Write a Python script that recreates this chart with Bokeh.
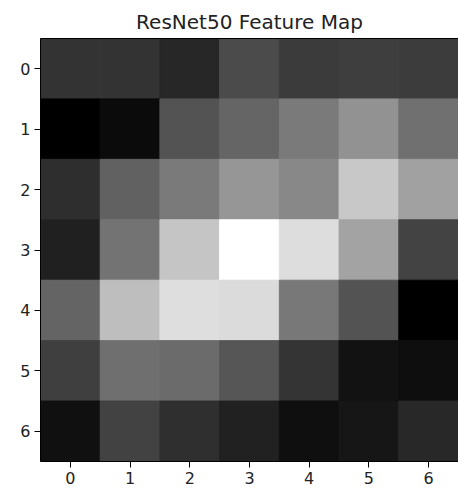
from bokeh.plotting import figure
from bokeh.models import ColumnDataSource, LinearColorMapper, Range1d, FixedTicker, LinearAxis
from bokeh.embed import file_html
from bokeh.resources import INLINE

# Feature map values (gray level 0-255), rows top to bottom
row0 = [51, 51, 39, 75, 59, 62, 60]
row1 = [0, 11, 83, 101, 122, 146, 112]
row2 = [46, 97, 122, 150, 136, 200, 161]
row3 = [32, 115, 197, 255, 221, 163, 67]
row4 = [100, 190, 222, 219, 120, 83, 0]
row5 = [63, 111, 107, 86, 52, 18, 14]
row6 = [16, 66, 47, 33, 15, 22, 40]
rows = [row0, row1, row2, row3, row4, row5, row6]
tick_positions = [0, 1, 2, 3, 4, 5, 6]

xs, ys, vals = [], [], []
for r, row in enumerate(rows):
    for c, v in enumerate(row):
        xs.append(c)
        ys.append(r)
        vals.append(v)
src = ColumnDataSource(dict(x=xs, y=ys, v=vals))

gray = ["#%02x%02x%02x" % (i, i, i) for i in range(256)]
mapper = LinearColorMapper(palette=gray, low=min(vals), high=max(vals))

p = figure(width=458, height=488, output_backend="svg", toolbar_location=None,
           x_range=Range1d(-0.5, 6.5), y_range=Range1d(6.5, -0.5),
           title="ResNet50 Feature Map",
           min_border_left=40, min_border_right=0, min_border_top=38, min_border_bottom=27)
p.frame_width = 418
p.frame_height = 423

p.rect(x="x", y="y", width=1, height=1, source=src,
       fill_color={"field": "v", "transform": mapper},
       line_color={"field": "v", "transform": mapper}, line_width=1)

p.title.align = "center"
p.title.text_font = "DejaVu Sans"
p.title.text_font_size = "20px"
p.title.text_font_style = "normal"
p.title.text_color = "#222222"
p.title.standoff = 10

p.grid.visible = False
p.background_fill_color = "white"
p.border_fill_color = "white"
p.outline_line_color = None

top_axis = LinearAxis(ticker=FixedTicker(ticks=[]), major_tick_line_color=None,
                      minor_tick_line_color=None, major_label_text_font_size="0px",
                      major_tick_out=0, major_tick_in=0, major_label_standoff=0,
                      axis_line_color="black", axis_line_width=1)
p.add_layout(top_axis, "above")

for ax in (p.below[0], p.left[0]):
    ax.ticker = FixedTicker(ticks=tick_positions)
    ax.minor_tick_line_color = None
    ax.major_tick_in = 0
    ax.major_tick_out = 6
    ax.major_tick_line_color = "black"
    ax.axis_line_color = "black"
    ax.major_label_text_font = "DejaVu Sans"
    ax.major_label_text_font_size = "16px"
    ax.major_label_text_color = "#222222"
    ax.major_label_standoff = 4

open("out.html", "w").write(file_html(p, INLINE))
